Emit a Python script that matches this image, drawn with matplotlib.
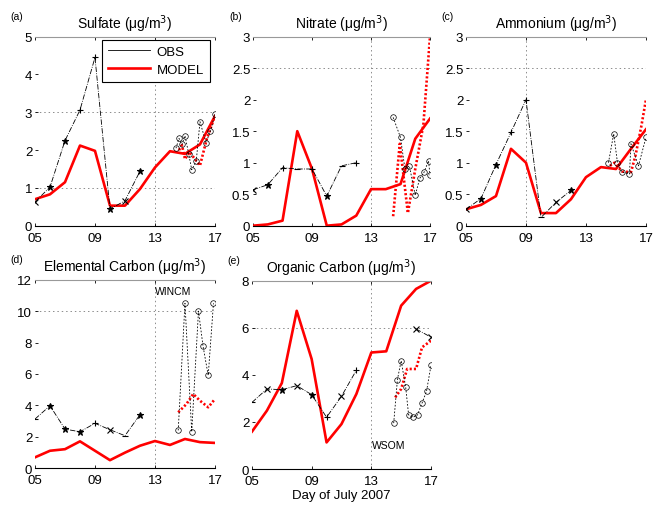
import numpy as np
import matplotlib
matplotlib.use("Agg")
import matplotlib.pyplot as plt
from matplotlib.lines import Line2D

plt.rcParams['font.family'] = ['Liberation Sans', 'DejaVu Sans']

days = np.arange(5, 18)
obs_days = np.arange(5, 13)

# (a) sulfate
so4_obs_day = [0.63, 1.02, 2.25, 3.06, 4.45, 0.44, 0.66, 1.44]
so4_mod_day = [0.7, 0.83, 1.15, 2.12, 1.98, 0.53, 0.53, 0.97, 1.54, 1.97, 1.9, 2.15, 2.9]
so4_hr_obs_x = [14.4, 14.6, 14.8, 15.0, 15.25, 15.45, 15.75, 16.0, 16.4, 16.7, 17.0]
so4_hr_obs = [2.05, 2.31, 2.15, 2.38, 1.9, 1.48, 1.7, 2.75, 2.2, 2.5, 2.95]
so4_hr_mod_x = [14.6, 14.8, 15.0, 15.3, 16.0, 16.45, 17.0]
so4_hr_mod = [2.0, 2.13, 1.76, 1.95, 1.59, 2.29, 2.9]

# (b) nitrate
no3_obs_day = [0.57, 0.65, 0.92, 0.9, 0.9, 0.47, 0.95, 1.0]
no3_mod_day = [0, 0.02, 0.08, 1.5, 0.9, 0, 0.02, 0.16, 0.58, 0.58, 0.66, 1.38, 1.7]
no3_hr_obs_x = [14.5, 15.0, 15.3, 15.6, 16.0, 16.3, 16.6, 16.9, 17.0]
no3_hr_obs = [1.72, 1.4, 0.9, 0.95, 0.48, 0.75, 0.85, 1.03, 0.8]
no3_hr_mod_x = [14.5, 14.95, 15.5, 16.0, 16.55, 17.0]
no3_hr_mod = [0.15, 1.3, 0.2, 0.9, 1.6, 3.0]

# (c) ammonium
nh4_obs_day = [0.26, 0.43, 0.97, 1.48, 2.0, 0.13, 0.37, 0.56]
nh4_mod_day = [0.26, 0.33, 0.47, 1.22, 1.0, 0.2, 0.2, 0.42, 0.77, 0.93, 0.9, 1.22, 1.53]
nh4_hr_obs_x = [14.5, 14.85, 15.1, 15.4, 15.9, 16.0, 16.5, 17.0]
nh4_hr_obs = [1.0, 1.46, 1.0, 0.85, 0.82, 1.3, 0.95, 1.4]
nh4_hr_mod_x = [14.6, 14.9, 15.4, 16.0, 16.3, 16.7, 17.0]
nh4_hr_mod = [0.95, 1.0, 0.86, 0.85, 1.11, 1.59, 2.0]

# (d) elemental carbon
ec_obs_day = [3.12, 3.97, 2.48, 2.31, 2.85, 2.44, 2.06, 3.4]
ec_mod_day = [0.68, 1.1, 1.2, 1.7, 1.1, 0.5, 0.98, 1.42, 1.72, 1.47, 1.85, 1.65, 1.6]
ec_hr_obs_x = [14.55, 15.0, 15.45, 15.9, 16.2, 16.55, 16.9]
ec_hr_obs = [2.4, 10.5, 2.3, 10.0, 7.8, 5.9, 10.5]
ec_hr_mod_x = [14.55, 15.1, 15.55, 16.0, 16.55, 17.0]
ec_hr_mod = [3.55, 4.08, 4.72, 4.29, 3.87, 4.4]

# (e) organic carbon
oc_obs_day = [2.83, 3.4, 3.37, 3.54, 3.16, 2.2, 3.09, 4.2]
oc_obs_late_days = [16, 17]
oc_obs_late = [5.95, 5.6]
oc_mod_day = [1.59, 2.48, 3.65, 6.72, 4.67, 1.13, 1.91, 3.19, 4.95, 5.0, 6.94, 7.65, 8.0]
oc_hr_obs_x = [14.5, 14.75, 15.0, 15.3, 15.5, 15.8, 16.1, 16.4, 16.7, 17.0]
oc_hr_obs = [1.95, 3.8, 4.6, 3.5, 2.3, 2.2, 2.3, 2.8, 3.3, 4.4]
oc_hr_mod_x = [14.6, 15.0, 15.4, 16.0, 16.4, 17.0]
oc_hr_mod = [3.04, 3.4, 4.25, 4.25, 5.17, 5.45]

x_ticks = [5, 9, 13, 17]
x_labels = ["05", "09", "13", "17"]

panels = [
    dict(tag="(a)", title="Sulfate (μg/m$^3$)", ylim=5, yticks=np.arange(0, 6, 1),
         obs=so4_obs_day, mod=so4_mod_day, hox=so4_hr_obs_x, ho=so4_hr_obs,
         hmx=so4_hr_mod_x, hm=so4_hr_mod, marks="x**++*x*",
         hgrid=[1, 3], vgrid=13, rect=[0.0535, 0.552, 0.2752, 0.3735]),
    dict(tag="(b)", title="Nitrate (μg/m$^3$)", ylim=3, yticks=np.arange(0, 3.01, 0.5),
         obs=no3_obs_day, mod=no3_mod_day, hox=no3_hr_obs_x, ho=no3_hr_obs,
         hmx=no3_hr_mod_x, hm=no3_hr_mod, marks="x*+_+*_+",
         hgrid=[2.5], vgrid=13, rect=[0.3869, 0.552, 0.2706, 0.3735]),
    dict(tag="(c)", title="Ammonium (μg/m$^3$)", ylim=3, yticks=np.arange(0, 3.01, 0.5),
         obs=nh4_obs_day, mod=nh4_mod_day, hox=nh4_hr_obs_x, ho=nh4_hr_obs,
         hmx=nh4_hr_mod_x, hm=nh4_hr_mod, marks="x**++_x*",
         hgrid=[2.5], vgrid=9, rect=[0.7125, 0.552, 0.2752, 0.3735]),
    dict(tag="(d)", title="Elemental Carbon (μg/m$^3$)", ylim=12, yticks=np.arange(0, 13, 2),
         obs=ec_obs_day, mod=ec_mod_day, hox=ec_hr_obs_x, ho=ec_hr_obs,
         hmx=ec_hr_mod_x, hm=ec_hr_mod, marks="_***+x_*",
         hgrid=[10], vgrid=13, rect=[0.0535, 0.0731, 0.2752, 0.372]),
    dict(tag="(e)", title="Organic Carbon (μg/m$^3$)", ylim=8, yticks=np.arange(0, 9, 2),
         obs=oc_obs_day, mod=oc_mod_day, hox=oc_hr_obs_x, ho=oc_hr_obs,
         hmx=oc_hr_mod_x, hm=oc_hr_mod, marks="_x*x*+x+",
         hgrid=[6], vgrid=13, rect=[0.3853, 0.0711, 0.2737, 0.3722]),
]

fig = plt.figure(figsize=(6.54, 5.06), dpi=100)
grid_kw = dict(color="0.55", lw=0.7, ls=(0, (1.5, 3)), zorder=0)

axes = []
for p in panels:
    ax = fig.add_axes(p["rect"])
    axes.append(ax)
    for h in p["hgrid"]:
        ax.axhline(h, **grid_kw)
    ax.axvline(p["vgrid"], **grid_kw)

    # daily observations
    ax.plot(obs_days, p["obs"], color="k", lw=0.6, ls="-.", zorder=3)
    for d, v, m in zip(obs_days, p["obs"], p["marks"]):
        ax.plot(d, v, marker=m, color="k", ms=4.5, mew=0.8, zorder=4)

    # daily model, hourly model, hourly observations
    ax.plot(days, p["mod"], color="red", lw=1.9, zorder=2)
    ax.plot(p["hmx"], p["hm"], color="red", lw=1.9, ls=(0, (0.8, 0.8)), zorder=2)
    ax.plot(p["hox"], p["ho"], color="k", lw=0.6, ls=(0, (2, 2)), marker="o",
            ms=4, mfc="none", mew=0.5, zorder=3)

    ax.set_xlim(5, 17)
    ax.set_ylim(0, p["ylim"])
    ax.set_xticks(x_ticks)
    ax.set_xticklabels(x_labels)
    ax.set_yticks(p["yticks"])
    ax.set_yticklabels([f"{t:g}" for t in p["yticks"]])
    ax.tick_params(direction="in", length=2.5, width=0.6, labelsize=9.5,
                   top=True, pad=2, colors="k")
    ax.tick_params(axis="x", pad=4.5)
    for s in ["left", "right"]:
        ax.spines[s].set_visible(False)
    ax.spines["top"].set_color("0.6")
    ax.spines["bottom"].set_linewidth(0.8)
    ax.patch.set_alpha(0)
    ax.set_title(p["title"], fontsize=10, pad=6)
    ax.text(-0.1, 1.11, p["tag"], transform=ax.transAxes, fontsize=7.5,
            ha="center", va="center")

# legend in (a)
h_obs = Line2D([], [], color="k", lw=0.6)
h_mod = Line2D([], [], color="red", lw=1.9)
leg = axes[0].legend([h_obs, h_mod], ["OBS", "MODEL"], loc="upper right",
                     bbox_to_anchor=(0.97, 0.985), fontsize=9.5, frameon=True,
                     fancybox=False, edgecolor="k", framealpha=1,
                     handlelength=3.2, borderpad=0.45, labelspacing=0.45,
                     handletextpad=0.5, borderaxespad=0)
leg.get_frame().set_linewidth(0.8)

axes[3].text(13.0, 11.3, "WINCM", fontsize=7.5, ha="left", va="center")
axes[4].text(13.05, 1.0, "WSOM", fontsize=7.5, ha="left", va="center")
axes[4].plot(oc_obs_late_days, oc_obs_late, color="k", lw=0.6, ls="-.",
             marker="x", ms=4.5, mew=0.8, zorder=4)
axes[4].set_xlabel("Day of July 2007", fontsize=9.5, labelpad=1)

fig.savefig("out.png", dpi=100)
print("wrote out.png")
